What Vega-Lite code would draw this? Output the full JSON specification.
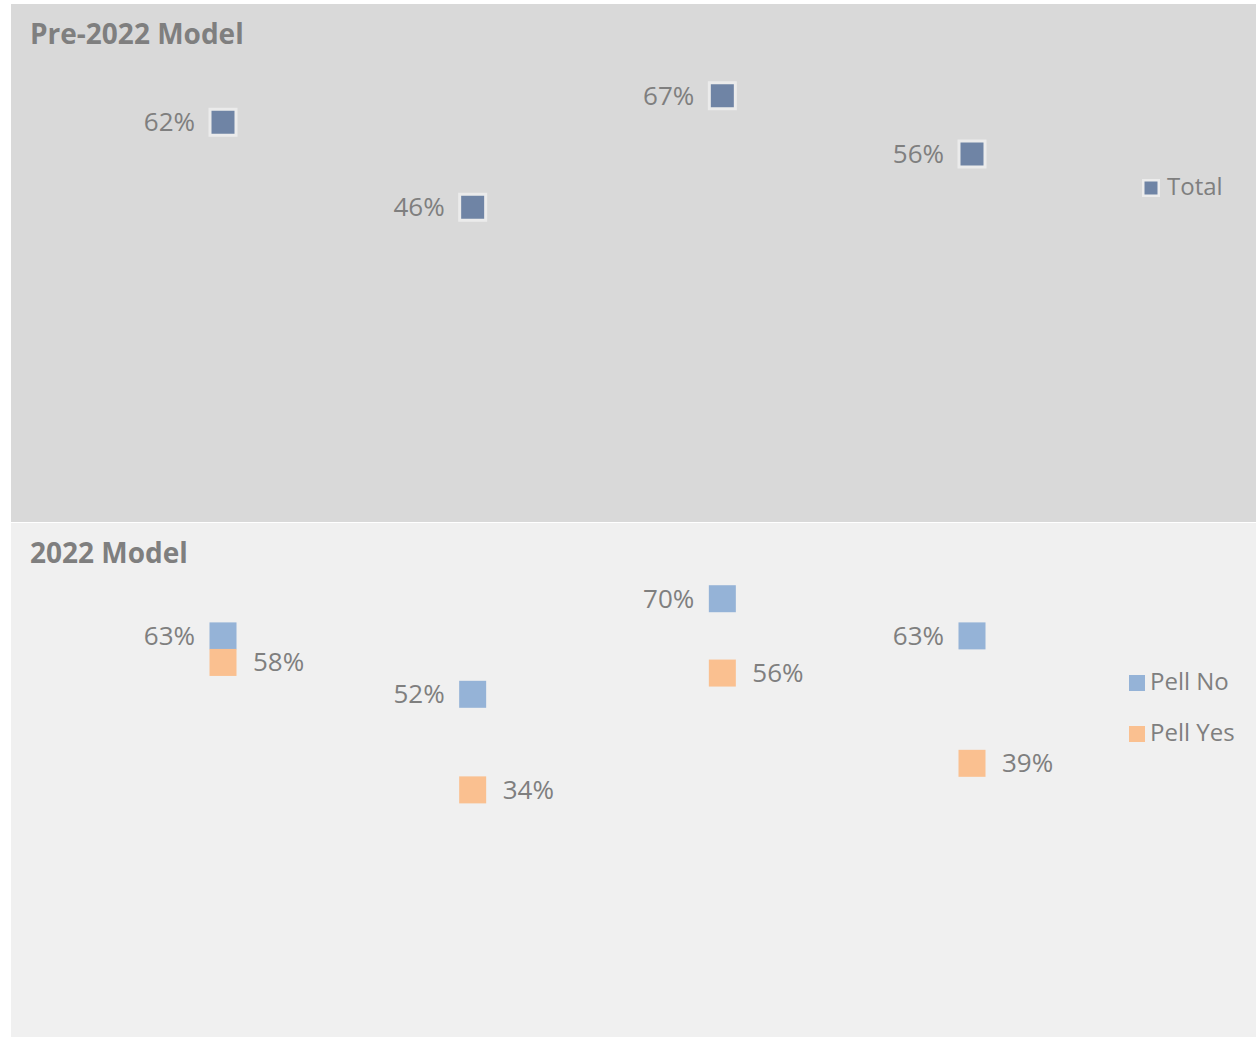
{
  "$schema": "https://vega.github.io/schema/vega-lite/v6.json",
  "background": "white",
  "padding": {"left": 11, "top": 4, "right": 0, "bottom": 0},
  "spacing": 1,
  "config": {"view": {"stroke": null}, "font": "Open Sans"},
  "datasets": {
    "pre": [
      {"cat": "1", "series": "Total", "value": 0.62},
      {"cat": "2", "series": "Total", "value": 0.46},
      {"cat": "3", "series": "Total", "value": 0.67},
      {"cat": "4", "series": "Total", "value": 0.56}
    ],
    "m2022": [
      {"cat": "1", "series": "Pell No", "value": 0.63},
      {"cat": "1", "series": "Pell Yes", "value": 0.58},
      {"cat": "2", "series": "Pell No", "value": 0.52},
      {"cat": "2", "series": "Pell Yes", "value": 0.34},
      {"cat": "3", "series": "Pell No", "value": 0.70},
      {"cat": "3", "series": "Pell Yes", "value": 0.56},
      {"cat": "4", "series": "Pell No", "value": 0.63},
      {"cat": "4", "series": "Pell Yes", "value": 0.39}
    ]
  },
  "vconcat": [
    {
      "width": 1245,
      "height": 518,
      "view": {"fill": "#d9d9d9", "stroke": null},
      "title": {"text": "Pre-2022 Model", "anchor": "start", "offset": -46, "dx": 19, "fontSize": 28, "fontWeight": "bold", "color": "#7f7f7f", "font": "Open Sans"},
      "data": {"name": "pre"},
      "encoding": {
        "x": {"field": "cat", "type": "ordinal", "scale": {"type": "point", "range": [212, 961], "padding": 0}, "axis": null},
        "y": {"field": "value", "type": "quantitative", "scale": {"domain": [-0.133, 0.8426], "nice": false, "zero": false}, "axis": null}
      },
      "layer": [
        {
          "mark": {"type": "square", "size": 676, "opacity": 1, "stroke": "#ebebeb", "strokeWidth": 3},
          "encoding": {
            "color": {"field": "series", "type": "nominal", "scale": {"domain": ["Total"], "range": ["#6f84a5"]},
              "legend": {"title": null, "orient": "none", "legendX": 1128, "legendY": 172, "labelFontSize": 24, "labelColor": "#7f7f7f", "labelFont": "Open Sans", "symbolType": "square", "symbolSize": 240, "symbolStrokeColor": "#ececec", "symbolStrokeWidth": 2.5, "symbolOpacity": 1, "labelOffset": 4}}
          }
        },
        {
          "mark": {"type": "text", "align": "right", "baseline": "middle", "dx": -28, "dy": 1, "fontSize": 26, "color": "#7f7f7f"},
          "encoding": {"text": {"field": "value", "type": "quantitative", "format": ".0%"}}
        }
      ]
    },
    {
      "width": 1245,
      "height": 514,
      "view": {"fill": "#f0f0f0", "stroke": null},
      "title": {"text": "2022 Model", "anchor": "start", "offset": -46, "dx": 19, "fontSize": 28, "fontWeight": "bold", "color": "#7f7f7f", "font": "Open Sans"},
      "data": {"name": "m2022"},
      "encoding": {
        "x": {"field": "cat", "type": "ordinal", "scale": {"type": "point", "range": [212, 961], "padding": 0}, "axis": null},
        "y": {"field": "value", "type": "quantitative", "scale": {"domain": [-0.1254, 0.8426], "nice": false, "zero": false}, "axis": null}
      },
      "layer": [
        {
          "mark": {"type": "square", "size": 729, "opacity": 1},
          "encoding": {
            "color": {"field": "series", "type": "nominal", "scale": {"domain": ["Pell No", "Pell Yes"], "range": ["#95b3d7", "#fac090"]},
              "legend": {"title": null, "orient": "none", "legendX": 1114, "legendY": 148, "labelFontSize": 24, "labelColor": "#7f7f7f", "labelFont": "Open Sans", "symbolType": "square", "symbolSize": 256, "symbolOpacity": 1, "rowPadding": 27, "labelOffset": 1}}
          }
        },
        {
          "transform": [{"filter": "datum.series === 'Pell No'"}],
          "mark": {"type": "text", "align": "right", "baseline": "middle", "dx": -28, "dy": 1, "fontSize": 26, "color": "#7f7f7f"},
          "encoding": {"text": {"field": "value", "type": "quantitative", "format": ".0%"}}
        },
        {
          "transform": [{"filter": "datum.series === 'Pell Yes'"}],
          "mark": {"type": "text", "align": "left", "baseline": "middle", "dx": 30, "dy": 1, "fontSize": 26, "color": "#7f7f7f"},
          "encoding": {"text": {"field": "value", "type": "quantitative", "format": ".0%"}}
        }
      ]
    }
  ],
  "resolve": {"scale": {"color": "independent"}, "legend": {"color": "independent"}}
}
